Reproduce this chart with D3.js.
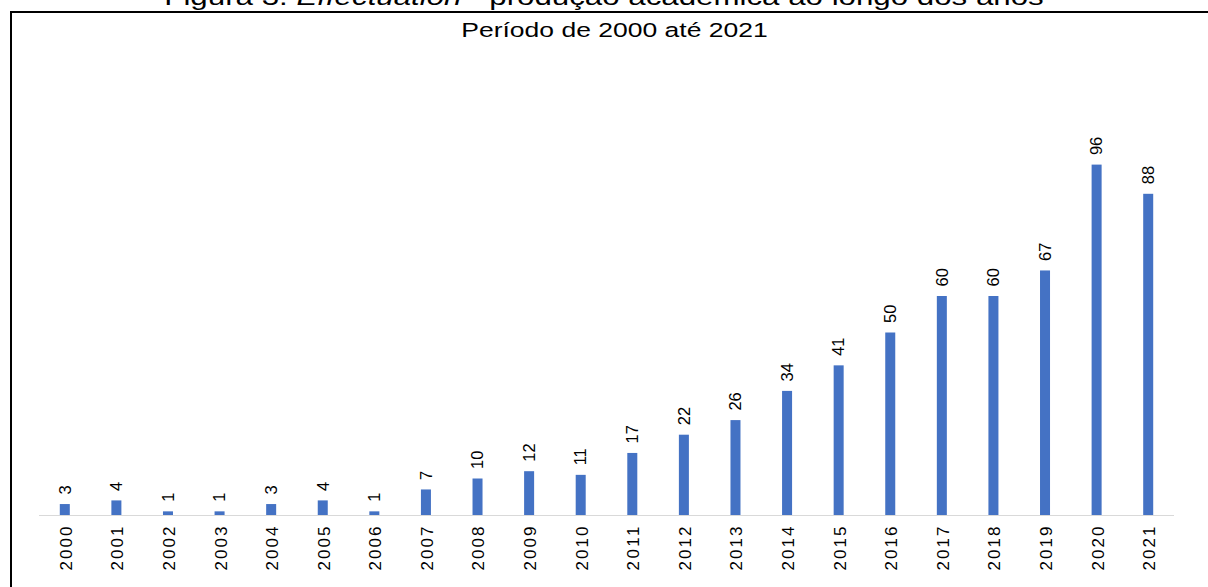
<!DOCTYPE html>
<html>
<head>
<meta charset="utf-8">
<script src="https://cdn.jsdelivr.net/npm/d3@7"></script>
<style>
  html, body { margin: 0; padding: 0; background: #fff; }
  svg { display: block; font-family: "Liberation Sans", Arial, sans-serif; }
</style>
</head>
<body>
<svg id="chart" width="1208" height="587"></svg>
<script>
const years = ["2000","2001","2002","2003","2004","2005","2006","2007","2008","2009","2010",
               "2011","2012","2013","2014","2015","2016","2017","2018","2019","2020","2021"];
const counts = [3,4,1,1,3,4,1,7,10,12,11,17,22,26,34,41,50,60,60,67,96,88];
const titleStart = "Figura 3: ";
const titleItalic = "Effectuation";
const titleEnd = " - produção acadêmica ao longo dos anos";
const subtitle = "Período de 2000 até 2021";

const svg = d3.select("#chart");
const W = 1208, H = 587;
const stretch = 1.36;

svg.append("rect").attr("width", W).attr("height", H).attr("fill", "#fff");

// frame
svg.append("rect")
  .attr("x", 11).attr("y", 12)
  .attr("width", W + 10).attr("height", H + 10)
  .attr("fill", "none").attr("stroke", "#000").attr("stroke-width", 2);

// title (cut off at top)
const t = svg.append("text")
  .attr("transform", `translate(604,5.3) scale(${stretch},1)`)
  .attr("text-anchor", "middle")
  .attr("font-size", 23)
  .attr("fill", "#000");
t.append("tspan").text(titleStart);
t.append("tspan").attr("font-style", "italic").text(titleItalic);
t.append("tspan").text(titleEnd);

svg.append("text")
  .attr("transform", `translate(614.5,36.6) scale(${stretch},1)`)
  .attr("text-anchor", "middle")
  .attr("font-size", 19.5)
  .attr("fill", "#000")
  .text(subtitle);

const x = d3.scaleBand().domain(years).range([39, 1174]).paddingInner(0.806).paddingOuter(0.403);
const y = d3.scaleLinear().domain([0, 100]).range([515, 150]);

// bars
svg.append("g").selectAll("rect")
  .data(years.map((yr, i) => ({ yr, v: counts[i] })))
  .join("rect")
  .attr("x", d => x(d.yr))
  .attr("width", x.bandwidth())
  .attr("y", d => y(d.v))
  .attr("height", d => y(0) - y(d.v))
  .attr("fill", "#4472C4");

// axis baseline
const axis = svg.append("g").attr("transform", `translate(0,${y(0)})`)
  .call(d3.axisBottom(x).tickSize(0).tickFormat(""));
axis.select(".domain").attr("stroke", "#d9d9d9").attr("stroke-width", 1.2)
  .attr("d", `M39,0.5H1174`);

// x tick labels (rotated)
svg.append("g").selectAll("text")
  .data(years)
  .join("text")
  .attr("transform", d => `translate(${x(d) + x.bandwidth() / 2 + 1},526.5) rotate(-90)`)
  .attr("text-anchor", "end")
  .attr("dy", "0.35em")
  .attr("font-size", 17)
  .attr("textLength", 44)
  .attr("lengthAdjust", "spacing")
  .attr("fill", "#000")
  .text(d => d);

// value labels (rotated)
svg.append("g").selectAll("text")
  .data(years.map((yr, i) => ({ yr, v: counts[i] })))
  .join("text")
  .attr("transform", d => `translate(${x(d.yr) + x.bandwidth() / 2},${y(d.v) - 9.5}) rotate(-90)`)
  .attr("text-anchor", "start")
  .attr("dy", "0.35em")
  .attr("font-size", 16.5)
  .attr("fill", "#000")
  .text(d => d.v);
</script>
</body>
</html>
